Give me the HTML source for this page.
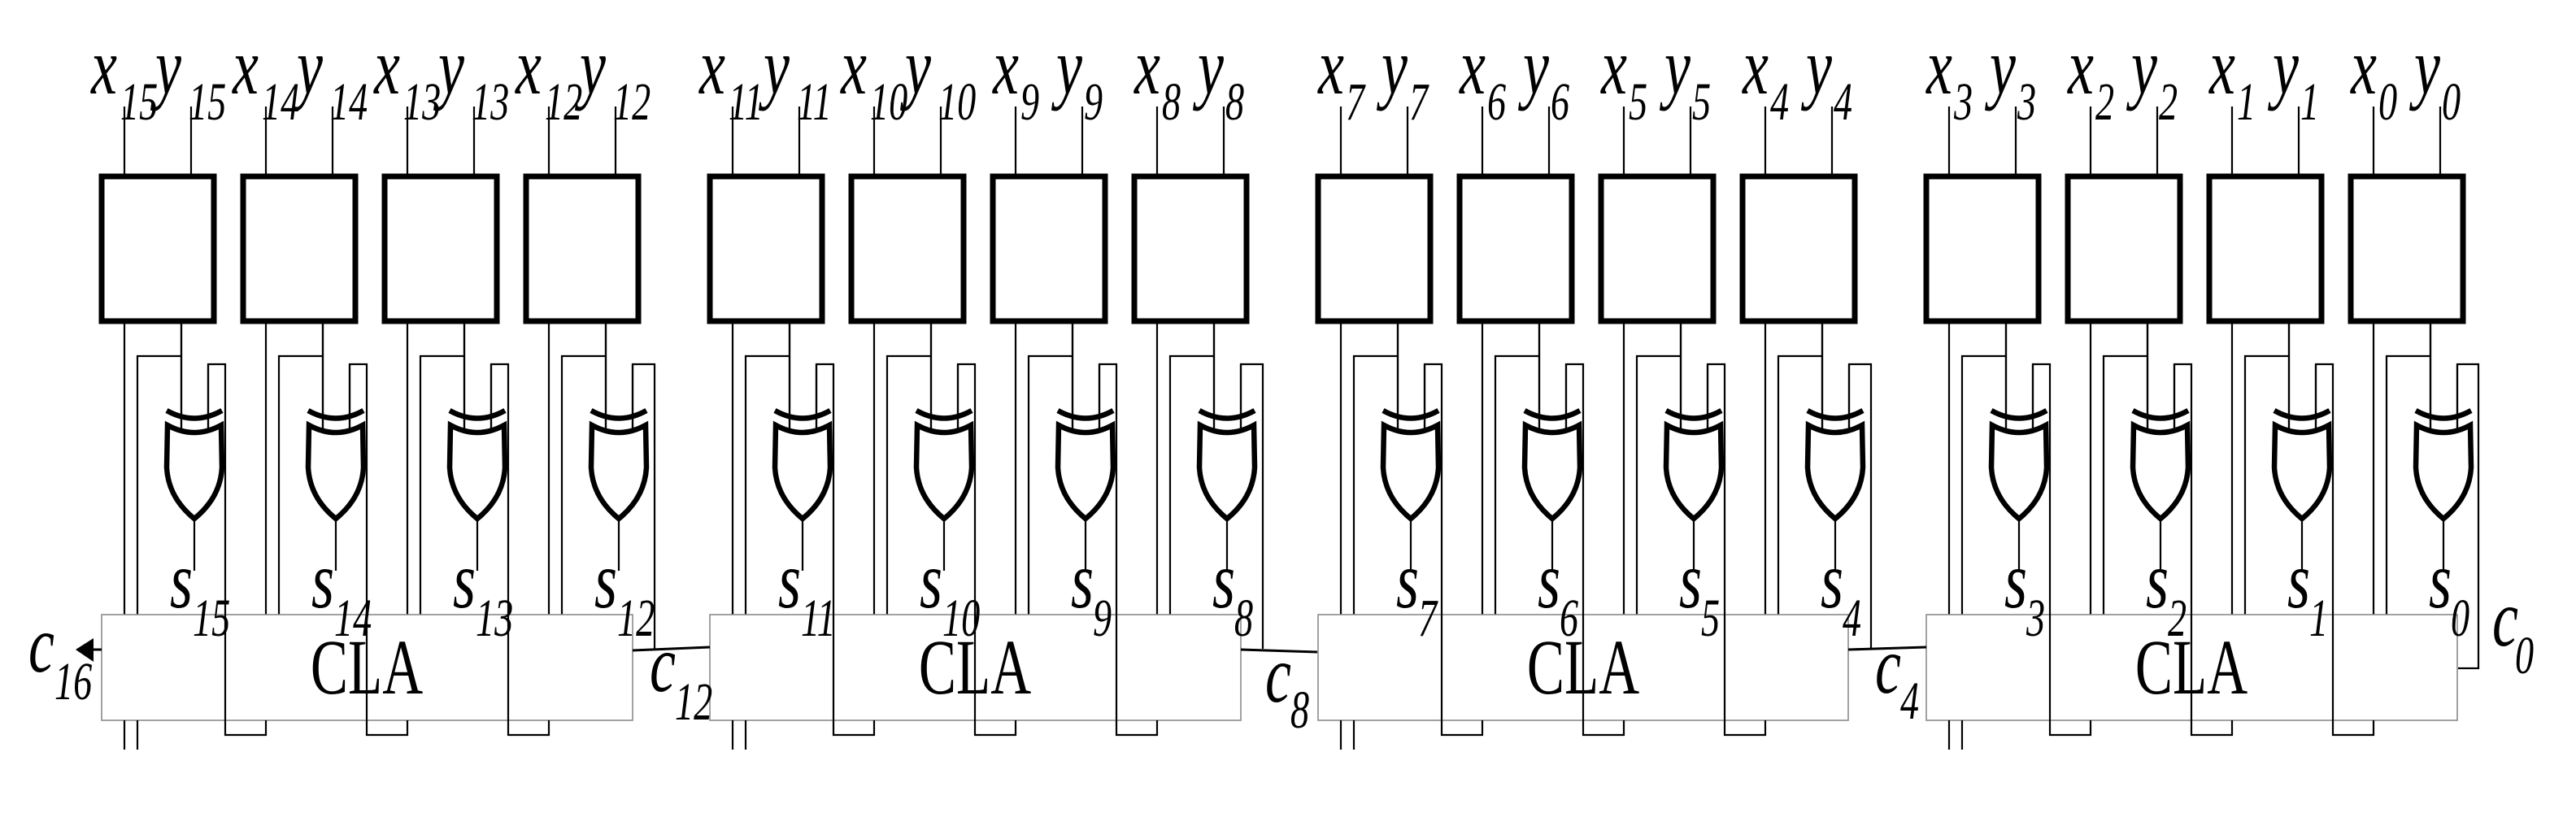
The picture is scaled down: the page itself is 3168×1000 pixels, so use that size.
<!DOCTYPE html>
<html><head><meta charset="utf-8"><style>
html,body{margin:0;padding:0;background:#fff}
svg{display:block}
.m{font-family:"Liberation Serif","Times New Roman",serif;font-style:italic;font-size:100px}
.u{font-family:"Liberation Serif","Times New Roman",serif;font-style:italic;font-size:66px}
.cla{font-family:"Liberation Serif","Times New Roman",serif;font-size:96px}
</style></head><body>
<svg width="3168" height="1000" viewBox="0 0 3168 1000" xmlns="http://www.w3.org/2000/svg">
<defs>
<g id="cell" fill="none" stroke="#000">
<rect x="0" y="217" width="138" height="178" stroke-width="7"/>
<path d="M28 131V217M110 131V217" stroke-width="2.2"/>
<path d="M28 395V756M98 395V438H44V756M98 395V528M114 638V702" stroke-width="2.2"/>
<path d="M80 505Q114 524 148 505" stroke-width="6.5"/>
<path d="M81 523Q114 541 147 523L148 575Q146 612 114 638Q82 612 80 575Z" stroke-width="6.5" fill="#fff"/>
<path d="M98 395V530M131 448V530" stroke-width="2.2"/>
</g>
<path id="rw" d="M131 530V448H152V904H202V886" fill="none" stroke="#000" stroke-width="2.2"/>
<path id="rl" d="M131 530V448H158V798" fill="none" stroke="#000" stroke-width="2.2"/>
<path id="r0" d="M131 530V448H157V822H132" fill="none" stroke="#000" stroke-width="2.2"/>
<path id="ext" d="M28 886V922M44 886V922" fill="none" stroke="#000" stroke-width="2.2"/>
</defs>

<use href="#cell" x="125"/><use href="#cell" x="299"/><use href="#cell" x="473"/><use href="#cell" x="647"/>
<use href="#cell" x="873"/><use href="#cell" x="1047"/><use href="#cell" x="1221"/><use href="#cell" x="1395"/>
<use href="#cell" x="1621"/><use href="#cell" x="1795"/><use href="#cell" x="1969"/><use href="#cell" x="2143"/>
<use href="#cell" x="2369"/><use href="#cell" x="2543"/><use href="#cell" x="2717"/><use href="#cell" x="2891"/>

<g fill="#fff" stroke="#8a8a8a" stroke-width="1.6">
<rect x="125" y="756" width="653" height="130"/>
<rect x="873" y="756" width="653" height="130"/>
<rect x="1621" y="756" width="652" height="130"/>
<rect x="2369" y="756" width="653" height="130"/>
</g>
<use href="#ext" x="125"/><use href="#ext" x="873"/><use href="#ext" x="1621"/><use href="#ext" x="2369"/>

<use href="#rw" x="125"/><use href="#rw" x="299"/><use href="#rw" x="473"/><use href="#rl" x="647"/>
<use href="#rw" x="873"/><use href="#rw" x="1047"/><use href="#rw" x="1221"/><use href="#rl" x="1395"/>
<use href="#rw" x="1621"/><use href="#rw" x="1795"/><use href="#rw" x="1969"/><use href="#rl" x="2143"/>
<use href="#rw" x="2369"/><use href="#rw" x="2543"/><use href="#rw" x="2717"/><use href="#r0" x="2891"/>

<g stroke="#000" stroke-width="3" fill="none">
<path d="M778 800L873 796M1526 799L1620 802M2273 799L2369 796M125 799H112"/>
</g>
<polygon points="93,799 115,785 115,814" fill="#000"/>

<g class="cla" text-anchor="middle">
<text transform="translate(451,853) scale(.72,1)">CLA</text>
<text transform="translate(1199,853) scale(.72,1)">CLA</text>
<text transform="translate(1947,853) scale(.72,1)">CLA</text>
<text transform="translate(2695,853) scale(.72,1)">CLA</text>
</g>

<g class="m">
<text transform="translate(112,115) scale(.72,1)">x</text><text transform="translate(191,115) scale(.72,1)">y</text>
<text transform="translate(286,115) scale(.72,1)">x</text><text transform="translate(365,115) scale(.72,1)">y</text>
<text transform="translate(460,115) scale(.72,1)">x</text><text transform="translate(539,115) scale(.72,1)">y</text>
<text transform="translate(634,115) scale(.72,1)">x</text><text transform="translate(713,115) scale(.72,1)">y</text>
<text transform="translate(860,115) scale(.72,1)">x</text><text transform="translate(939,115) scale(.72,1)">y</text>
<text transform="translate(1034,115) scale(.72,1)">x</text><text transform="translate(1113,115) scale(.72,1)">y</text>
<text transform="translate(1221,115) scale(.72,1)">x</text><text transform="translate(1299,115) scale(.72,1)">y</text>
<text transform="translate(1395,115) scale(.72,1)">x</text><text transform="translate(1473,115) scale(.72,1)">y</text>
<text transform="translate(1621,115) scale(.72,1)">x</text><text transform="translate(1699,115) scale(.72,1)">y</text>
<text transform="translate(1795,115) scale(.72,1)">x</text><text transform="translate(1873,115) scale(.72,1)">y</text>
<text transform="translate(1969,115) scale(.72,1)">x</text><text transform="translate(2047,115) scale(.72,1)">y</text>
<text transform="translate(2143,115) scale(.72,1)">x</text><text transform="translate(2221,115) scale(.72,1)">y</text>
<text transform="translate(2369,115) scale(.72,1)">x</text><text transform="translate(2447,115) scale(.72,1)">y</text>
<text transform="translate(2543,115) scale(.72,1)">x</text><text transform="translate(2621,115) scale(.72,1)">y</text>
<text transform="translate(2717,115) scale(.72,1)">x</text><text transform="translate(2795,115) scale(.72,1)">y</text>
<text transform="translate(2891,115) scale(.72,1)">x</text><text transform="translate(2969,115) scale(.72,1)">y</text>

<text transform="translate(209,747) scale(.72,1)">s</text>
<text transform="translate(383,747) scale(.72,1)">s</text>
<text transform="translate(557,747) scale(.72,1)">s</text>
<text transform="translate(731,747) scale(.72,1)">s</text>
<text transform="translate(957,747) scale(.72,1)">s</text>
<text transform="translate(1131,747) scale(.72,1)">s</text>
<text transform="translate(1317,747) scale(.72,1)">s</text>
<text transform="translate(1491,747) scale(.72,1)">s</text>
<text transform="translate(1717,747) scale(.72,1)">s</text>
<text transform="translate(1891,747) scale(.72,1)">s</text>
<text transform="translate(2065,747) scale(.72,1)">s</text>
<text transform="translate(2239,747) scale(.72,1)">s</text>
<text transform="translate(2465,747) scale(.72,1)">s</text>
<text transform="translate(2639,747) scale(.72,1)">s</text>
<text transform="translate(2813,747) scale(.72,1)">s</text>
<text transform="translate(2987,747) scale(.72,1)">s</text>

<text transform="translate(35,826) scale(.72,1)">c</text>
<text transform="translate(799,850) scale(.72,1)">c</text>
<text transform="translate(1556,863) scale(.72,1)">c</text>
<text transform="translate(2306,852) scale(.72,1)">c</text>
<text transform="translate(3065,794) scale(.72,1)">c</text>
</g>

<g class="u">
<text transform="translate(148,147) scale(.7,1)">15</text><text transform="translate(232,147) scale(.7,1)">15</text>
<text transform="translate(322,147) scale(.7,1)">14</text><text transform="translate(406,147) scale(.7,1)">14</text>
<text transform="translate(496,147) scale(.7,1)">13</text><text transform="translate(580,147) scale(.7,1)">13</text>
<text transform="translate(670,147) scale(.7,1)">12</text><text transform="translate(754,147) scale(.7,1)">12</text>
<text transform="translate(896,147) scale(.7,1)">11</text><text transform="translate(980,147) scale(.7,1)">11</text>
<text transform="translate(1070,147) scale(.7,1)">10</text><text transform="translate(1154,147) scale(.7,1)">10</text>
<text transform="translate(1255,147) scale(.7,1)">9</text><text transform="translate(1333,147) scale(.7,1)">9</text>
<text transform="translate(1429,147) scale(.7,1)">8</text><text transform="translate(1507,147) scale(.7,1)">8</text>
<text transform="translate(1655,147) scale(.7,1)">7</text><text transform="translate(1733,147) scale(.7,1)">7</text>
<text transform="translate(1829,147) scale(.7,1)">6</text><text transform="translate(1907,147) scale(.7,1)">6</text>
<text transform="translate(2003,147) scale(.7,1)">5</text><text transform="translate(2081,147) scale(.7,1)">5</text>
<text transform="translate(2177,147) scale(.7,1)">4</text><text transform="translate(2255,147) scale(.7,1)">4</text>
<text transform="translate(2403,147) scale(.7,1)">3</text><text transform="translate(2481,147) scale(.7,1)">3</text>
<text transform="translate(2577,147) scale(.7,1)">2</text><text transform="translate(2655,147) scale(.7,1)">2</text>
<text transform="translate(2751,147) scale(.7,1)">1</text><text transform="translate(2829,147) scale(.7,1)">1</text>
<text transform="translate(2925,147) scale(.7,1)">0</text><text transform="translate(3003,147) scale(.7,1)">0</text>

<text transform="translate(237,782) scale(.7,1)">15</text>
<text transform="translate(411,782) scale(.7,1)">14</text>
<text transform="translate(585,782) scale(.7,1)">13</text>
<text transform="translate(759,782) scale(.7,1)">12</text>
<text transform="translate(985,782) scale(.7,1)">11</text>
<text transform="translate(1159,782) scale(.7,1)">10</text>
<text transform="translate(1344,782) scale(.7,1)">9</text>
<text transform="translate(1518,782) scale(.7,1)">8</text>
<text transform="translate(1744,782) scale(.7,1)">7</text>
<text transform="translate(1918,782) scale(.7,1)">6</text>
<text transform="translate(2092,782) scale(.7,1)">5</text>
<text transform="translate(2266,782) scale(.7,1)">4</text>
<text transform="translate(2492,782) scale(.7,1)">3</text>
<text transform="translate(2666,782) scale(.7,1)">2</text>
<text transform="translate(2840,782) scale(.7,1)">1</text>
<text transform="translate(3014,782) scale(.7,1)">0</text>

<text transform="translate(67,860) scale(.7,1)">16</text>
<text transform="translate(830,885) scale(.7,1)">12</text>
<text transform="translate(1587,895) scale(.7,1)">8</text>
<text transform="translate(2337,884) scale(.7,1)">4</text>
<text transform="translate(3093,828) scale(.7,1)">0</text>
</g>
</svg>
</body></html>
